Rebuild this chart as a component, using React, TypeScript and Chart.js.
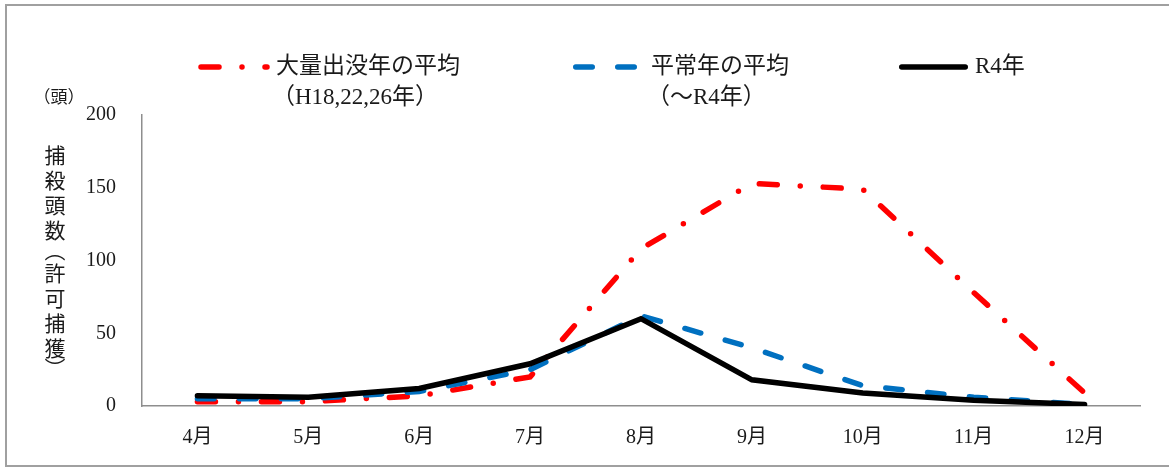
import React, { useEffect, useRef } from "react";
import { Chart, registerables } from "chart.js";

Chart.register(...registerables);

const months = ["4月", "5月", "6月", "7月", "8月", "9月", "10月", "11月", "12月"];
const massYearAvg = [3, 3, 7, 20, 108, 153, 149, 78, 9];
const normalYearAvg = [5, 5, 10, 25, 62, 40, 14, 6, 1];
const r4Year = [7, 6, 12, 29, 60, 18, 9, 4, 1];
const yTicks = [0, 50, 100, 150, 200];
const seriesLabels = [
  ["大量出没年の平均", "（H18,22,26年）"],
  ["平常年の平均", "（～R4年）"],
  ["R4年"],
];
const yTitleChars = ["捕", "殺", "頭", "数", "︵", "許", "可", "捕", "獲", "︶"];
const yUnit = "（頭）";

const FONT = "'Liberation Serif', 'Noto Sans CJK JP', serif";
const TEXT = "#1a1a1a";
const AXIS = "#8e8e8e";

const decorPlugin = {
  id: "decor",
  beforeDraw(chart: any) {
    const ctx = chart.ctx;
    ctx.save();
    ctx.strokeStyle = "#a0a0a0";
    ctx.lineWidth = 2;
    ctx.strokeRect(6, 5, 1250, 461);
    ctx.restore();
  },
  afterDraw(chart: any) {
    const ctx = chart.ctx;
    ctx.save();
    const items = [
      { x0: 201, x1: 267, tx: 276 },
      { x0: 575.75, x1: 634.25, tx: 651 },
      { x0: 901.75, x1: 965.25, tx: 975 },
    ];
    chart.data.datasets.forEach((ds: any, i: number) => {
      const it = items[i];
      ctx.save();
      ctx.strokeStyle = ds.borderColor;
      ctx.lineWidth = ds.borderWidth;
      ctx.lineCap = ds.borderCapStyle || "butt";
      ctx.setLineDash(ds.borderDash || []);
      ctx.beginPath();
      ctx.moveTo(it.x0, 67);
      ctx.lineTo(it.x1, 67);
      ctx.stroke();
      ctx.restore();
      ctx.fillStyle = TEXT;
      ctx.font = `23px ${FONT}`;
      ctx.textBaseline = "middle";
      ctx.textAlign = "left";
      seriesLabels[i].forEach((t, j) => {
        ctx.fillText(t, j === 0 ? it.tx : it.tx - 4, 67 + j * 31);
      });
    });
    ctx.font = `17px ${FONT}`;
    ctx.textAlign = "center";
    ctx.textBaseline = "middle";
    ctx.fillStyle = TEXT;
    ctx.fillText(yUnit, 59, 99);
    ctx.font = `21px ${FONT}`;
    let y = 157;
    yTitleChars.forEach((c, i) => {
      const isParen = c === "︵" || c === "︶";
      if (i > 0) {
        const prevParen = yTitleChars[i - 1] === "︵" || yTitleChars[i - 1] === "︶";
        y += isParen ? 20 : prevParen ? 23 : 25;
      }
      ctx.fillText(c, 55, y);
    });
    ctx.restore();
  },
};

export default function App() {
  const ref = useRef<HTMLCanvasElement | null>(null);
  useEffect(() => {
    document.body.style.margin = "0";
    const canvas = ref.current!;
    const chart = new Chart(canvas, {
      type: "line",
      data: {
        labels: months,
        datasets: [
          {
            label: seriesLabels[0].join(""),
            data: massYearAvg,
            borderColor: "#ff0000",
            borderWidth: 5.5,
            borderDash: [18, 23, 0, 23],
            borderCapStyle: "round",
            pointRadius: 0,
            tension: 0,
            order: 3,
          },
          {
            label: seriesLabels[1].join(""),
            data: normalYearAvg,
            borderColor: "#0070c0",
            borderWidth: 5.5,
            borderDash: [16.5, 25.5],
            borderCapStyle: "round",
            pointRadius: 0,
            tension: 0,
            order: 2,
          },
          {
            label: seriesLabels[2].join(""),
            data: r4Year,
            borderColor: "#000000",
            borderWidth: 5.5,
            borderCapStyle: "round",
            borderJoinStyle: "miter",
            pointRadius: 0,
            tension: 0,
            order: 1,
          },
        ],
      },
      options: {
        animation: false,
        responsive: false,
        maintainAspectRatio: false,
        layout: { padding: { top: 115, right: 29, bottom: 0, left: 0 } },
        plugins: {
          legend: { display: false },
          tooltip: { enabled: false },
          title: { display: false },
        },
        scales: {
          x: {
            type: "category",
            offset: true,
            grid: { display: false, drawTicks: false },
            border: { display: true, color: AXIS, width: 1.5 },
            ticks: {
              color: TEXT,
              font: { family: FONT, size: 20 },
              padding: 20,
              maxRotation: 0,
              autoSkip: false,
            },
            afterFit: (s: any) => {
              s.height = 62;
            },
          },
          y: {
            min: 0,
            max: 200,
            grid: { display: false, drawTicks: false },
            border: { display: true, color: AXIS, width: 1.5 },
            ticks: {
              color: TEXT,
              font: { family: FONT, size: 20 },
              padding: 26,
              stepSize: 50,
            },
            afterBuildTicks: (s: any) => {
              s.ticks = yTicks.map((v) => ({ value: v }));
            },
            afterFit: (s: any) => {
              s.width = 142;
            },
          },
        },
      },
      plugins: [decorPlugin],
    });
    return () => chart.destroy();
  }, []);
  return <canvas ref={ref} width={1169} height={468} style={{ display: "block" }} />;
}
